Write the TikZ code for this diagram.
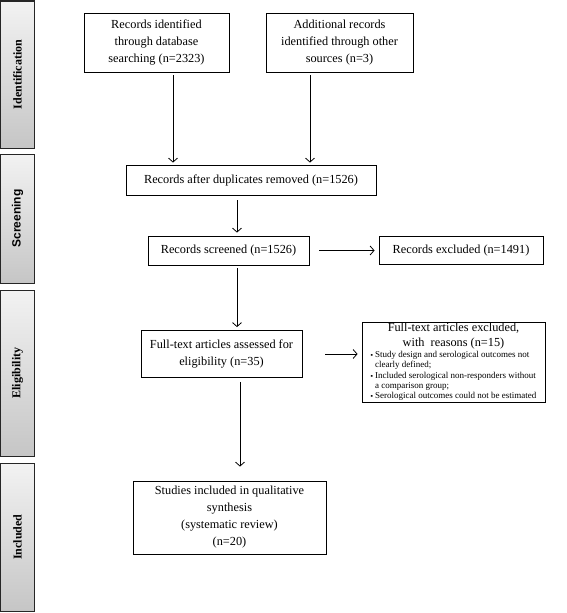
\documentclass[tikz,border=0pt]{standalone}
\usepackage{fontspec}
\setmainfont{Liberation Serif}
\newfontfamily\sansb{Liberation Sans}
\usetikzlibrary{arrows.meta}
\begin{document}
\begin{tikzpicture}[x=1pt,y=-1pt,
 box/.style={draw=black, line width=0.8pt, inner sep=2pt, align=center, font=\fontsize{12.3}{17}\selectfont},
 bar/.style={draw=black!85, line width=1pt, top color=gray!10, bottom color=gray!45, inner sep=0pt, minimum width=34pt},
 arr/.style={line width=0.8pt, -{Straight Barb[length=4pt,width=9pt]}},
 lab/.style={rotate=90, font=\bfseries\fontsize{12}{14}\selectfont}]
\useasboundingbox (0,0) rectangle (567,613);
% side bars
\node[bar, minimum height=147pt] (s1) at (17.5,74.5) {};
\node[bar, minimum height=129pt] (s2) at (17.5,218.5) {};
\node[bar, minimum height=166pt] (s3) at (17.5,373) {};
\node[bar, minimum height=148pt] (s4) at (17.5,537) {};
\node[lab] (l1) at (s1) {Identification};
\node[lab, font=\sansb\bfseries\fontsize{12}{14}\selectfont] (l2) at (s2) {Screening};
\node[lab] (l3) at (s3) {Eligibility};
\node[lab] (l4) at (s4) {Included};
% boxes
\node[box, minimum width=145pt, minimum height=59pt] (b1) at (156.5,42.5) {Records identified\\through database\\searching (n=2323)};
\node[box, minimum width=147pt, minimum height=59pt] (b2) at (339.5,42.5) {Additional records\\identified through other\\sources (n=3)};
\node[box, minimum width=250pt, minimum height=30pt] (b3) at (251,180) {Records after duplicates removed (n=1526)};
\node[box, minimum width=161pt, minimum height=29pt] (b4) at (228.5,250.5) {Records screened (n=1526)};
\node[box, minimum width=164pt, minimum height=28pt] (b5) at (461,250.5) {Records excluded (n=1491)};
\node[box, minimum width=161pt, minimum height=47pt] (b6) at (221.5,354) {Full-text articles assessed for\\eligibility (n=35)};
\node[box, minimum width=183pt, minimum height=79pt, inner sep=1pt, font=\fontsize{12.3}{15}\selectfont] (b7) at (453.5,362.5) {Full-text articles excluded,\\with\ \ reasons (n=15)\\
 {\fontsize{9}{10.3}\selectfont\begin{tabular}{@{}l@{}}
 \scalebox{0.75}{▪} Study design and serological outcomes not\\
 \ \ clearly defined;\\
 \scalebox{0.75}{▪} Included serological non-responders without\\
 \ \ a comparison group;\\
 \scalebox{0.75}{▪} Serological outcomes could not be estimated
 \end{tabular}}};
\node[box, minimum width=193pt, minimum height=73pt] (b8) at (229.5,517.5) {Studies included in qualitative\\synthesis\\(systematic review)\\(n=20)};
% arrows
\coordinate (c1) at (173,0);
\coordinate (c2) at (310,0);
\coordinate (c3) at (237,0);
\coordinate (c4) at (240,0);
\draw[arr, shorten <=3pt, shorten >=2pt] (b1.south -| c1) -- (b3.north -| c1);
\draw[arr, shorten <=3pt, shorten >=2pt] (b2.south -| c2) -- (b3.north -| c2);
\draw[arr, shorten <=5pt, shorten >=3pt] (b3.south -| c3) -- (b4.north -| c3);
\draw[arr, shorten <=10pt, shorten >=4pt] (b4.east) -- (b4.east -| b5.west);
\draw[arr, shorten <=3pt, shorten >=3pt] (b4.south -| c3) -- (b6.north -| c3);
\draw[arr, shorten <=23pt, shorten >=4pt] (b6.east) -- (b6.east -| b7.west);
\draw[arr, shorten <=4pt, shorten >=14pt] (b6.south -| c4) -- (b8.north -| c4);
\end{tikzpicture}
\end{document}
